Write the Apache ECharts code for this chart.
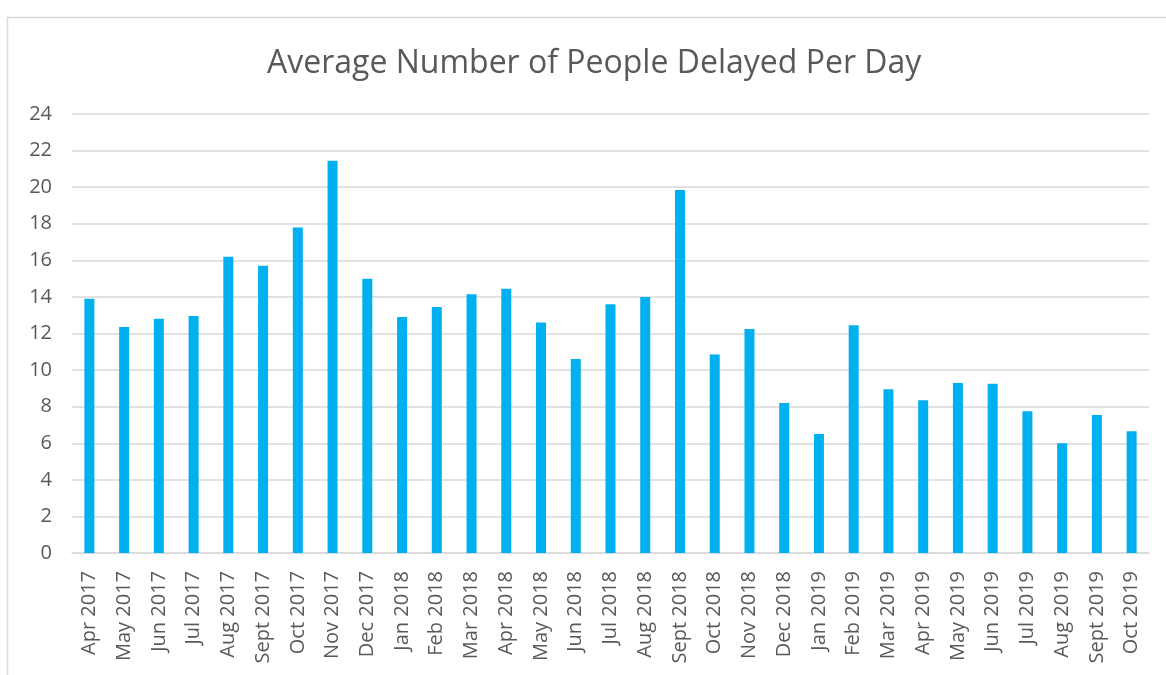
<!DOCTYPE html>
<html>
<head>
    <meta charset="utf-8">
    <title>ECharts</title>
    <script src="https://cdn.jsdelivr.net/npm/echarts@6/dist/echarts.min.js"></script>
    <style>
        html, body { margin: 0; padding: 0; background: #fff; }
    </style>
</head>
<body>
    <div id="main" style="width: 1166px;height:675px;"></div>
    <script type="text/javascript">
        var myChart = echarts.init(document.getElementById('main'));

// months along the x axis
var months = [
    'Apr 2017', 'May 2017', 'Jun 2017', 'Jul 2017', 'Aug 2017', 'Sept 2017',
    'Oct 2017', 'Nov 2017', 'Dec 2017', 'Jan 2018', 'Feb 2018', 'Mar 2018',
    'Apr 2018', 'May 2018', 'Jun 2018', 'Jul 2018', 'Aug 2018', 'Sept 2018',
    'Oct 2018', 'Nov 2018', 'Dec 2018', 'Jan 2019', 'Feb 2019', 'Mar 2019',
    'Apr 2019', 'May 2019', 'Jun 2019', 'Jul 2019', 'Aug 2019', 'Sept 2019',
    'Oct 2019'
];
// average people delayed per day
var delayed = [
    13.9, 12.35, 12.8, 12.95, 16.2, 15.7,
    17.8, 21.45, 15.0, 12.9, 13.45, 14.15,
    14.45, 12.6, 10.6, 13.6, 14.0, 19.85,
    10.85, 12.25, 8.2, 6.5, 12.45, 8.95,
    8.35, 9.3, 9.25, 7.75, 6.0, 7.55,
    6.65
];
var yMin = 0, yMax = 24, yStep = 2;

var labelColor = '#595959';
var lineColor = '#D9D9D9';

option = {
    animation: false,
    title: {
        text: 'Average Number of People Delayed Per Day',
        left: 262,
        top: 43,
        textStyle: {
            fontFamily: 'Open Sans',
            fontWeight: 'normal',
            fontSize: 32,
            color: labelColor
        }
    },
    grid: {
        left: 72,
        right: 17,
        top: 114,
        bottom: 122
    },
    xAxis: {
        type: 'category',
        data: months,
        axisTick: { show: false },
        axisLine: { lineStyle: { color: lineColor, width: 1.5 } },
        axisLabel: {
            rotate: 90,
            interval: 0,
            margin: 18,
            fontFamily: 'Open Sans',
            fontSize: 20,
            color: labelColor
        }
    },
    yAxis: {
        type: 'value',
        min: yMin,
        max: yMax,
        interval: yStep,
        axisLine: { show: false },
        axisTick: { show: false },
        axisLabel: {
            margin: 20,
            fontFamily: 'Open Sans',
            fontSize: 20,
            color: labelColor
        },
        splitLine: {
            lineStyle: { color: lineColor, width: 1.5 }
        }
    },
    graphic: [{
        type: 'rect',
        left: 5,
        top: 15,
        shape: { width: 1180, height: 700 },
        style: { fill: 'none', stroke: lineColor, lineWidth: 1.5 },
        silent: true
    }],
    series: [{
        name: 'Delayed',
        type: 'bar',
        barWidth: 10,
        itemStyle: { color: '#00B0F0' },
        data: delayed
    }]
};

    myChart.setOption(option);
    </script>
</body>
</html>
